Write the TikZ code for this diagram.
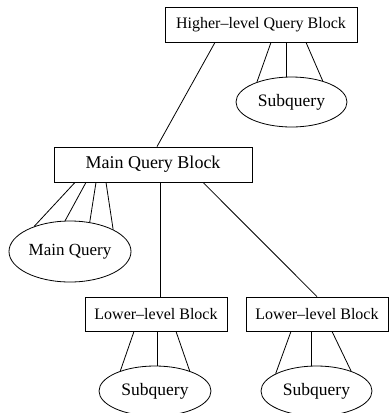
\documentclass[tikz,border=0pt]{standalone}
\usepackage{fontspec}
\setmainfont{Liberation Serif}
\usetikzlibrary{shapes.geometric}
\tikzset{
  blk/.style={draw, rectangle, inner sep=0pt, line width=0.8pt},
  ell/.style={draw, ellipse, inner sep=0pt, line width=0.8pt},
  edge/.style={line width=0.8pt}
}
\begin{document}
\begin{tikzpicture}[x=1pt,y=-1pt]
\useasboundingbox (0,0) rectangle (390,413);
\begin{scope}
\clip (0,0) rectangle (390,413);
\node[blk, minimum width=192pt, minimum height=35pt, font=\fontsize{16}{19}\selectfont] (hb) at (261,24.5) {Higher--level Query Block};
\node[ell, minimum width=111pt, minimum height=50pt, font=\fontsize{17.5}{20}\selectfont] (sq0) at (291.5,102) {Subquery};
\node[blk, minimum width=198pt, minimum height=35pt, font=\fontsize{18}{21}\selectfont] (mb) at (153,164.5) {Main Query Block};
\node[ell, minimum width=122pt, minimum height=61pt, font=\fontsize{17}{20}\selectfont] (mq) at (70,251.5) {Main Query};
\node[blk, minimum width=142pt, minimum height=34pt, font=\fontsize{16}{19}\selectfont] (lb1) at (156,314) {Lower--level Block};
\node[blk, minimum width=142pt, minimum height=34pt, font=\fontsize{16}{19}\selectfont] (lb2) at (317,314) {Lower--level Block};
\node[ell, minimum width=112pt, minimum height=50pt, font=\fontsize{17.5}{20}\selectfont] (sq1) at (155,391) {Subquery};
\node[ell, minimum width=111pt, minimum height=50pt, font=\fontsize{17.5}{20}\selectfont] (sq2) at (316.5,391) {Subquery};
% higher block edges
\draw[edge] ([xshift=-46pt]hb.south) -- ([xshift=4pt]mb.north);
\draw[edge] ([xshift=10pt]hb.south) -- (sq0.150);
\draw[edge] ([xshift=25pt]hb.south) -- ([xshift=25pt]hb.south |- sq0.100);
\draw[edge] ([xshift=45pt]hb.south) -- (sq0.34);
% main block edges
\draw[edge] ([xshift=-78pt]mb.south) -- (mq.145);
\draw[edge] ([xshift=-67pt]mb.south) -- (mq.99);
\draw[edge] ([xshift=-57pt]mb.south) -- (mq.56);
\draw[edge] ([xshift=-47pt]mb.south) -- (mq.27);
\draw[edge] ([xshift=7pt]mb.south) -- ([xshift=7pt]mb.south |- lb1.north);
\draw[edge] ([xshift=50pt]mb.south) -- (lb2.north);
% lower block 1 edges
\draw[edge] ([xshift=-22pt]lb1.south) -- (sq1.150);
\draw[edge] ([xshift=1pt]lb1.south) -- ([xshift=1pt]lb1.south |- sq1.north);
\draw[edge] ([xshift=20pt]lb1.south) -- (sq1.30);
% lower block 2 edges
\draw[edge] ([xshift=-26pt]lb2.south) -- (sq2.157);
\draw[edge] ([xshift=-6pt]lb2.south) -- ([xshift=-6pt]lb2.south |- sq2.north);
\draw[edge] ([xshift=15pt]lb2.south) -- (sq2.30);
\end{scope}
\end{tikzpicture}
\end{document}
